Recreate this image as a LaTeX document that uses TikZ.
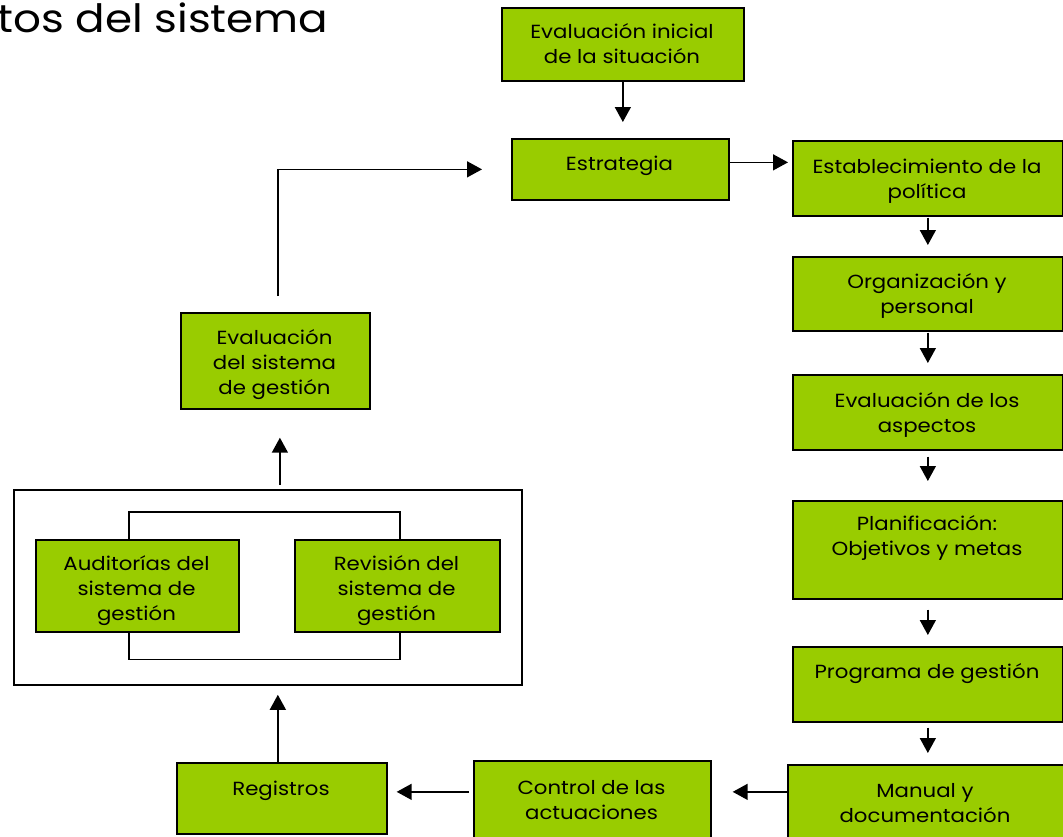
\documentclass[tikz,border=0pt]{standalone}
\usepackage{fontspec}
\setmainfont{Poppins}[FakeStretch=1.12]
\usetikzlibrary{arrows.meta,calc}
\definecolor{boxgreen}{HTML}{99CC00}
\newcommand\boxtext[2]{\parbox[t]{#1}{\centering #2}}
\begin{document}
\begin{tikzpicture}[x=1pt,y=-1pt,
  gbox/.style={draw=black, line width=1.7pt, fill=boxgreen, inner sep=0pt, anchor=north west},
  frame/.style={draw=black, line width=1.8pt, fill=white, inner sep=0pt, anchor=north west},
  lbl/.style={anchor=base, inner sep=0pt, font=\fontsize{19pt}{25pt}\selectfont},
  arr/.style={line width=1.5pt, -{Triangle[width=16pt,length=15pt]}},
  link/.style={line width=1.5pt}
]
\useasboundingbox (0,0) rectangle (1063,836);

% title
\node[anchor=base west, inner sep=0pt, font=\fontsize{39pt}{41pt}\selectfont] (title) at (-3,32) {tos del sistema};

% outer frame
\node[frame, minimum width=508pt, minimum height=195pt] (outer) at (13,489) {};

% boxes
\node[gbox, minimum width=242pt, minimum height=73pt] (ini) at (501,7) {};
\node[gbox, minimum width=217pt, minimum height=61pt] (estr) at (511,138) {};
\node[gbox, minimum width=270pt, minimum height=75pt] (estab) at (792,140) {};
\node[gbox, minimum width=270pt, minimum height=74pt] (org) at (792,256) {};
\node[gbox, minimum width=270pt, minimum height=75pt] (asp) at (792,374) {};
\node[gbox, minimum width=270pt, minimum height=98pt] (plan) at (792,500) {};
\node[gbox, minimum width=270pt, minimum height=75pt] (prog) at (792,646) {};
\node[gbox, minimum width=276pt, minimum height=76pt] (man) at (787,764) {};
\node[gbox, minimum width=237pt, minimum height=80pt] (ctrl) at (473,760) {};
\node[gbox, minimum width=210pt, minimum height=71pt] (reg) at (176,762) {};
\node[gbox, minimum width=189pt, minimum height=96pt] (evs) at (180,312) {};
\node[gbox, minimum width=203pt, minimum height=92pt] (aud) at (35,539) {};
\node[gbox, minimum width=205pt, minimum height=92pt] (rev) at (294,539) {};

% texts
\node[lbl] (iniT) at (622,38) {\boxtext{242pt}{Evaluación inicial\\de la situación}};
\node[lbl] (estrT) at (619.5,170) {\boxtext{217pt}{Estrategia}};
\node[lbl] (estabT) at (927,173) {\boxtext{270pt}{Establecimiento de la\\política}};
\node[lbl] (orgT) at (927,288) {\boxtext{270pt}{Organización y\\personal}};
\node[lbl] (aspT) at (927,407) {\boxtext{270pt}{Evaluación de los\\aspectos}};
\node[lbl] (planT) at (927,530) {\boxtext{270pt}{Planificación:\\Objetivos y metas}};
\node[lbl] (progT) at (927,678) {\boxtext{270pt}{Programa de gestión}};
\node[lbl] (manT) at (925,797) {\boxtext{276pt}{Manual y\\documentación}};
\node[lbl] (ctrlT) at (591.5,794) {\boxtext{237pt}{Control de las\\actuaciones}};
\node[lbl] (regT) at (281,795) {\boxtext{210pt}{Registros}};
\node[lbl] (evsT) at (274.5,344) {\boxtext{189pt}{Evaluación\\del sistema\\de gestión}};
\node[lbl] (audT) at (136.5,570) {\boxtext{203pt}{Auditorías del\\sistema de\\gestión}};
\node[lbl] (revT) at (396.5,570) {\boxtext{205pt}{Revisión del\\sistema de\\gestión}};

% connectors
\draw[arr, shorten >=16pt] (ini.south) -- (ini.south |- estr.north);
\draw[arr, shorten >=4pt] ([yshift=7pt]estr.east) -- ([yshift=7pt]estr.east -| estab.west);
\draw[arr, shorten <=1pt, shorten >=11pt] (estab.south) -- (org.north);
\draw[arr, shorten <=1pt, shorten >=11pt] (org.south) -- (asp.north);
\draw[arr, shorten <=6pt, shorten >=19pt] (asp.south) -- (plan.north);
\draw[arr, shorten <=10pt, shorten >=11pt] (plan.south) -- (prog.north);
\draw[arr, shorten <=5pt, shorten >=11pt] (prog.south) -- (prog.south |- man.north);
\draw[arr, shorten >=21pt] ([yshift=11pt]man.west) -- ([yshift=11pt]man.west -| ctrl.east);
\draw[arr, shorten <=4pt, shorten >=9pt] ([yshift=9pt]ctrl.west) -- ([yshift=9pt]ctrl.west -| reg.east);
\draw[arr, shorten >=9pt] ([xshift=-4pt]reg.north) -- ([xshift=-4pt]reg.north |- outer.south);
\draw[arr, shorten <=4pt, shorten >=28pt] ([xshift=12pt]outer.north) -- ([xshift=12pt]outer.north |- evs.south);
\draw[arr, shorten <=16pt, shorten >=29pt] ([xshift=2.5pt]evs.north) |- (estr.west);

% loop between the two review boxes
\draw[link] ([xshift=-8.5pt]aud.north) -- ++(0,-27) -| ([xshift=2.5pt]rev.north);
\draw[link] ([xshift=-8.5pt]aud.south) -- ++(0,27) -| ([xshift=2.5pt]rev.south);
\end{tikzpicture}
\end{document}
